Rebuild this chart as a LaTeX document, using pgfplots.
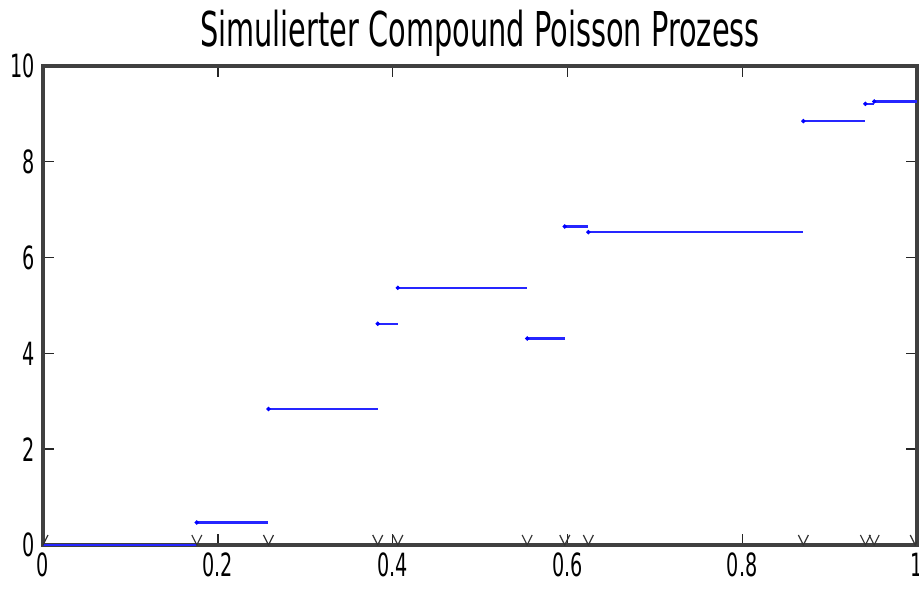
\documentclass[border=0pt]{standalone}
\usepackage{fontspec}
\setmainfont{DejaVu Sans}[FakeStretch=0.6]
\usepackage{pgfplots}
\pgfplotsset{compat=1.18}
\pgfdeclareplotmark{vee}{%
  \pgfpathmoveto{\pgfqpoint{-0.5\pgfplotmarksize}{\pgfplotmarksize}}%
  \pgfpathlineto{\pgfqpoint{0pt}{0pt}}%
  \pgfpathlineto{\pgfqpoint{0.5\pgfplotmarksize}{\pgfplotmarksize}}%
  \pgfusepathqstroke}
\begin{document}
\begin{tikzpicture}
\begin{axis}[
  at={(0,0)}, anchor=south west,
  scale only axis, width=437pt, height=239.5pt,
  xmin=0, xmax=1, ymin=0, ymax=10,
  xtick={0,0.2,0.4,0.6,0.8,1}, ytick={0,2,4,6,8,10},
  xticklabels={0,0.2,0.4,0.6,0.8,1},
  tick align=inside, major tick length=5.5pt,
  xtick pos=both, ytick pos=both,
  tick style={black!85, line width=0.7pt},
  axis line style={black!75, line width=1.8pt},
  /pgf/number format/assume math mode=true,
  ticklabel style={font=\fontsize{16}{16}\selectfont},
  xticklabel style={yshift=-0.5pt},
  yticklabel style={xshift=-0.5pt},
  title={Simulierter Compound Poisson Prozess},
  title style={font=\fontsize{24}{24}\selectfont, yshift=-5pt},
  unbounded coords=jump,
  clip marker paths=true,
]
\addplot[blue!85!white, line width=1.1pt, no marks] coordinates {
 (0,0) (0.176,0) (nan,nan)
 (0.176,0.47) (0.258,0.47) (nan,nan)
 (0.258,2.84) (0.383,2.84) (nan,nan)
 (0.383,4.62) (0.406,4.62) (nan,nan)
 (0.406,5.37) (0.554,5.37) (nan,nan)
 (0.554,4.31) (0.597,4.31) (nan,nan)
 (0.597,6.65) (0.624,6.65) (nan,nan)
 (0.624,6.53) (0.870,6.53) (nan,nan)
 (0.870,8.85) (0.941,8.85) (nan,nan)
 (0.941,9.21) (0.951,9.21) (nan,nan)
 (0.951,9.26) (1.0,9.26)
};
\addplot[blue, only marks, mark=*, mark size=0.9pt] coordinates {
 (0.176,0.47) (0.258,2.84) (0.383,4.62) (0.406,5.37) (0.554,4.31)
 (0.597,6.65) (0.624,6.53) (0.870,8.85) (0.941,9.21) (0.951,9.26)
};
\addplot[black!80, only marks, mark=vee, mark size=5pt, mark options={line width=0.6pt}] coordinates {
 (0,0) (0.176,0) (0.258,0) (0.383,0) (0.406,0) (0.554,0) (0.597,0)
 (0.624,0) (0.870,0) (0.941,0) (0.951,0) (0.998,0)
};
\end{axis}
\pgfresetboundingbox
\useasboundingbox (-21.5pt,-21.5pt) rectangle (438pt,272.5pt);
\end{tikzpicture}
\end{document}
